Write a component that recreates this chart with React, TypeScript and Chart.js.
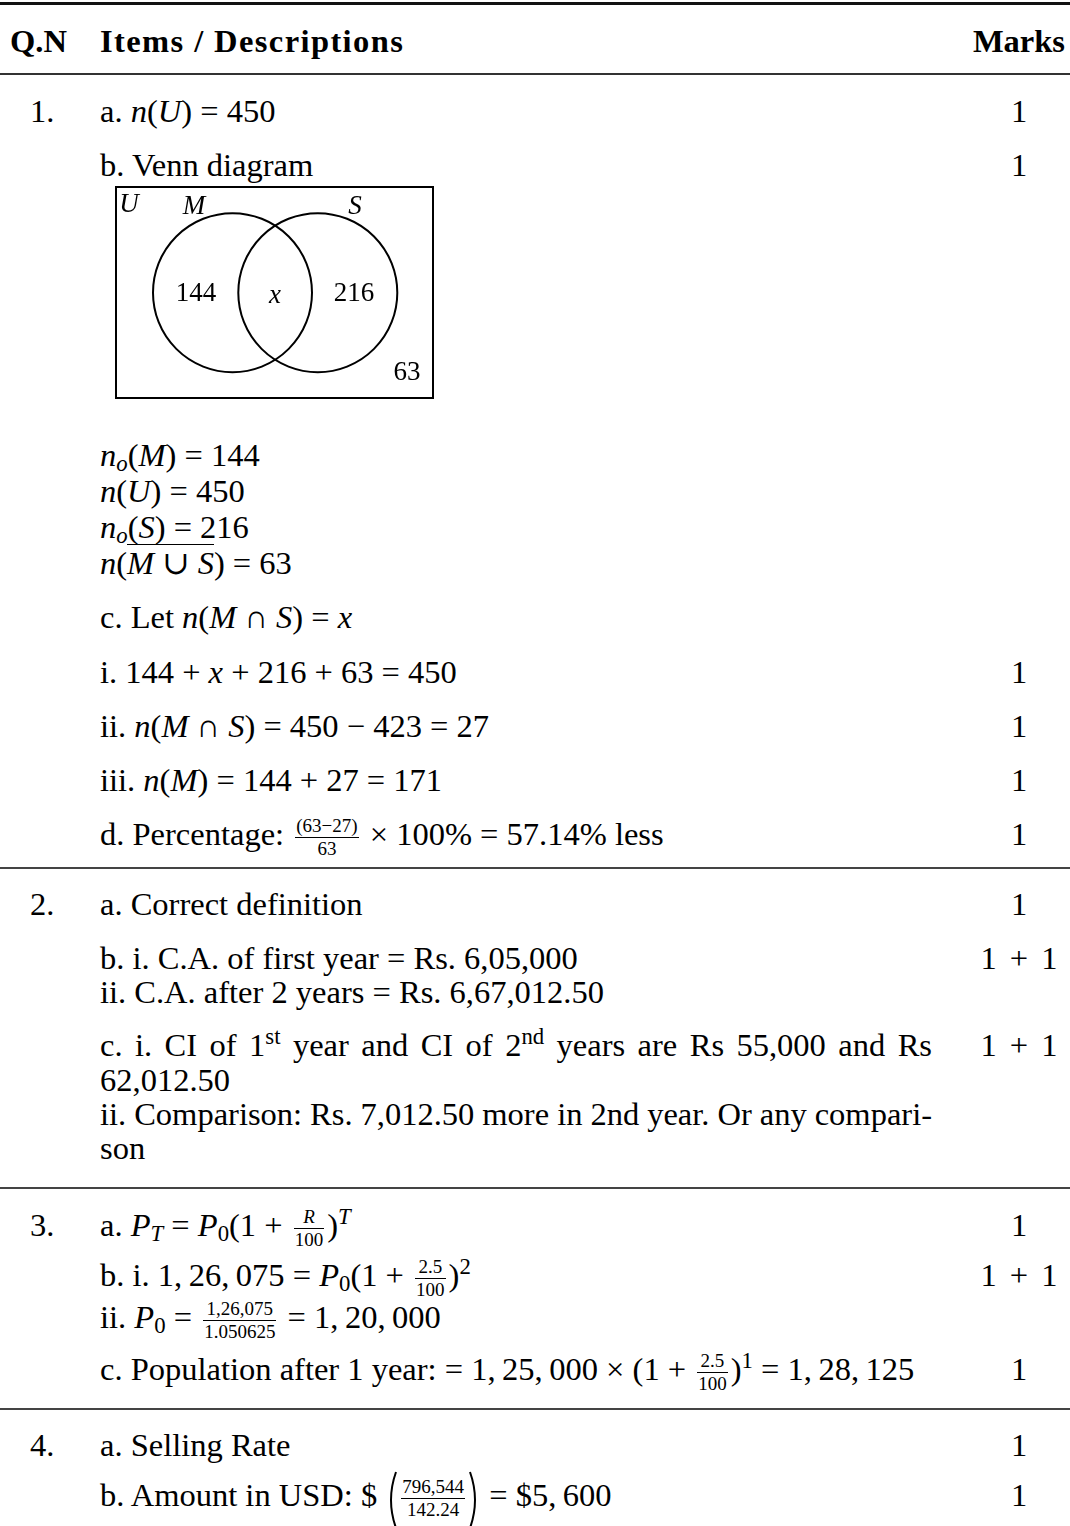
import React, { useEffect, useRef } from "react";
import { Chart, registerables } from "chart.js";

Chart.register(...registerables);

// ---------- data ----------
const setLabels = ["U", "M", "S"]; // universal set, then the two sets
const regionLabels = ["144", "x", "216", "63"]; // M only, M∩S, S only, neither
const questionNumbers = ["1.", "2.", "3.", "4."];
const headerLabels = ["Q.N", "Items / Descriptions", "Marks"];

// ---------- Venn layout (in diagram units, 1 unit ≈ 1 px) ----------
const universeBox = { w: 317, h: 211 };
const circleCenters = [
  { x: 116.5, y: 105.3 },
  { x: 201.8, y: 105.3 },
];
const circleRadius = 79.5;
const setLabelPos = [
  { x: 13, y: 193 },
  { x: 78, y: 191 },
  { x: 239, y: 191 },
];
const regionLabelPos = [
  { x: 80, y: 104 },
  { x: 159, y: 102 },
  { x: 238, y: 104 },
  { x: 291, y: 25 },
];

const FONT = '"Liberation Serif", "DejaVu Serif", serif';
const FS = 32.5;
const TS = "\u2009"; // thin space after digit-group commas in math

const vennPlugin = {
  id: "vennDecor",
  afterDatasetsDraw(chart: any) {
    const { ctx } = chart;
    const xs = chart.scales.x;
    const ys = chart.scales.y;
    ctx.save();
    ctx.strokeStyle = "#000";
    ctx.lineWidth = 2;
    const x0 = xs.getPixelForValue(0);
    const x1 = xs.getPixelForValue(universeBox.w);
    const y0 = ys.getPixelForValue(universeBox.h);
    const y1 = ys.getPixelForValue(0);
    ctx.strokeRect(x0, y0, x1 - x0, y1 - y0);
    ctx.fillStyle = "#000";
    ctx.textAlign = "center";
    ctx.textBaseline = "middle";
    setLabels.forEach((s, i) => {
      ctx.font = `italic 27px ${FONT}`;
      ctx.fillText(s, xs.getPixelForValue(setLabelPos[i].x), ys.getPixelForValue(setLabelPos[i].y));
    });
    regionLabels.forEach((s, i) => {
      const numeric = /^\d+$/.test(s);
      ctx.font = `${numeric ? "" : "italic "}27px ${FONT}`;
      ctx.fillText(s, xs.getPixelForValue(regionLabelPos[i].x), ys.getPixelForValue(regionLabelPos[i].y));
    });
    ctx.restore();
  },
};

function Venn() {
  const ref = useRef<HTMLCanvasElement | null>(null);
  useEffect(() => {
    if (!ref.current) return;
    const chart = new Chart(ref.current, {
      type: "bubble",
      data: {
        datasets: [
          {
            data: circleCenters.map((c) => ({ x: c.x, y: c.y, r: circleRadius })),
            backgroundColor: "rgba(0,0,0,0)",
            borderColor: "#000",
            borderWidth: 2,
            clip: false,
          } as any,
        ],
      },
      options: {
        animation: false,
        responsive: false,
        devicePixelRatio: 1,
        events: [],
        layout: { padding: 0, autoPadding: false },
        plugins: { legend: { display: false }, tooltip: { enabled: false } },
        scales: {
          x: { type: "linear", min: -6, max: universeBox.w + 6, display: false },
          y: { type: "linear", min: -6, max: universeBox.h + 6, display: false },
        },
      } as any,
      plugins: [vennPlugin],
    });
    return () => chart.destroy();
  }, []);
  return (
    <canvas
      ref={ref}
      width={universeBox.w + 12}
      height={universeBox.h + 12}
      style={{ position: "absolute", left: 110, top: 181 }}
    />
  );
}

// ---------- text helpers ----------
const I = ({ children }: any) => <i>{children}</i>;
const Sub = ({ children }: any) => (
  <span style={{ fontSize: "0.7em", verticalAlign: "-5px", lineHeight: 0 }}>{children}</span>
);
const Sup = ({ children }: any) => (
  <span style={{ fontSize: "0.7em", verticalAlign: "12px", lineHeight: 0 }}>{children}</span>
);
const Over = ({ children }: any) => (
  <span style={{ borderTop: "1.3px solid #000" }}>{children}</span>
);
function Frac({ n, d, fs = 19 }: any) {
  return (
    <span
      style={{
        display: "inline-flex",
        flexDirection: "column",
        alignItems: "center",
        verticalAlign: "middle",
        fontSize: fs,
        lineHeight: `${Math.ceil(fs * 1.12)}px`,
        margin: "0 3px",
      }}
    >
      <span style={{ padding: "0 1px" }}>{n}</span>
      <span style={{ alignSelf: "stretch", borderTop: "1.2px solid #000", height: 0 }} />
      <span style={{ padding: "0 1px" }}>{d}</span>
    </span>
  );
}
function Paren({ right = false }: any) {
  return (
    <svg width={13} height={58} style={{ verticalAlign: "-23px" }}>
      <path
        d={right ? "M2 1 Q12 29 2 57" : "M11 1 Q1 29 11 57"}
        stroke="#000"
        strokeWidth={2}
        fill="none"
      />
    </svg>
  );
}

function Line({ y, x = 100, lh = 60, w, align, justify, bold, children, ls, ws }: any) {
  const top = y - (lh / 2 + 0.3375 * FS);
  return (
    <div
      style={{
        position: "absolute",
        left: x,
        top,
        width: w,
        lineHeight: `${lh}px`,
        whiteSpace: "nowrap",
        textAlign: justify ? "justify" : align,
        textAlignLast: justify ? "justify" : undefined,
        fontWeight: bold ? "bold" : undefined,
        letterSpacing: ls,
        wordSpacing: ws,
      }}
    >
      {children}
    </div>
  );
}
const Mark = ({ y, children }: any) => (
  <Line y={y} x={969} w={100} align="center" ws="5px">
    {children}
  </Line>
);
const QN = ({ y, children }: any) => (
  <Line y={y} x={30}>
    {children}
  </Line>
);
const Rule = ({ y, h = 2, c = "#444" }: any) => (
  <div style={{ position: "absolute", left: 0, top: y, width: 1070, height: h, background: c }} />
);

export default function App() {
  return (
    <div
      style={{
        position: "absolute",
        left: 0,
        top: 0,
        width: 1070,
        height: 1526,
        background: "#fff",
        color: "#000",
        fontFamily: FONT,
        fontSize: FS,
        overflow: "hidden",
      }}
    >
      <Rule y={2} h={3} c="#111" />
      <Line y={52} x={10} bold>
        {headerLabels[0]}
      </Line>
      <Line y={52} x={100} bold ls="1.4px">
        {headerLabels[1]}
      </Line>
      <Line y={52} x={965} w={100} align="right" bold>
        {headerLabels[2]}
      </Line>
      <Rule y={73} h={2} c="#333" />

      {/* Question 1 */}
      <QN y={122}>{questionNumbers[0]}</QN>
      <Line y={122}>
        a. <I>n</I>(<I>U</I>) = 450
      </Line>
      <Mark y={122}>1</Mark>
      <Line y={176}>b. Venn diagram</Line>
      <Mark y={176}>1</Mark>
      <Venn />
      <Line y={466}>
        <I>n</I>
        <Sub>
          <I>o</I>
        </Sub>
        (<I>M</I>) = 144
      </Line>
      <Line y={502}>
        <I>n</I>(<I>U</I>) = 450
      </Line>
      <Line y={538}>
        <I>n</I>
        <Sub>
          <I>o</I>
        </Sub>
        (<I>S</I>) = 216
      </Line>
      <Line y={574}>
        <I>n</I>(
        <Over>
          <I>M</I> ∪ <I>S</I>
        </Over>
        ) = 63
      </Line>
      <Line y={628}>
        c. Let <I>n</I>(<I>M</I> ∩ <I>S</I>) = <I>x</I>
      </Line>
      <Line y={683}>
        i. 144 + <I>x</I> + 216 + 63 = 450
      </Line>
      <Mark y={683}>1</Mark>
      <Line y={737}>
        ii. <I>n</I>(<I>M</I> ∩ <I>S</I>) = 450 − 423 = 27
      </Line>
      <Mark y={737}>1</Mark>
      <Line y={791}>
        iii. <I>n</I>(<I>M</I>) = 144 + 27 = 171
      </Line>
      <Mark y={791}>1</Mark>
      <Line y={845}>
        d. Percentage: <Frac n="(63−27)" d="63" /> × 100% = 57.14% less
      </Line>
      <Mark y={845}>1</Mark>
      <Rule y={867} />

      {/* Question 2 */}
      <QN y={915}>{questionNumbers[1]}</QN>
      <Line y={915}>a. Correct definition</Line>
      <Mark y={915}>1</Mark>
      <Line y={969}>b. i. C.A. of first year = Rs. 6,05,000</Line>
      <Mark y={969}>1 + 1</Mark>
      <Line y={1003}>ii. C.A. after 2 years = Rs. 6,67,012.50</Line>
      <Line y={1056} w={832} justify>
        c. i. CI of 1<Sup>st</Sup> year and CI of 2<Sup>nd</Sup> years are Rs 55,000 and Rs
      </Line>
      <Mark y={1056}>1 + 1</Mark>
      <Line y={1091}>62,012.50</Line>
      <Line y={1125} w={832} justify ws="-2px">
        ii. Comparison: Rs. 7,012.50 more in 2nd year. Or any compari-
      </Line>
      <Line y={1159}>son</Line>
      <Rule y={1187} />

      {/* Question 3 */}
      <QN y={1236}>{questionNumbers[2]}</QN>
      <Line y={1236}>
        a. <I>P</I>
        <Sub>
          <I>T</I>
        </Sub>{" "}
        = <I>P</I>
        <Sub>0</Sub>(1 + <Frac n={<I>R</I>} d="100" />)
        <Sup>
          <I>T</I>
        </Sup>
      </Line>
      <Mark y={1236}>1</Mark>
      <Line y={1286}>
        b. i. 1,{TS}26,{TS}075 = <I>P</I>
        <Sub>0</Sub>(1 + <Frac n="2.5" d="100" />)<Sup>2</Sup>
      </Line>
      <Mark y={1286}>1 + 1</Mark>
      <Line y={1328}>
        ii. <I>P</I>
        <Sub>0</Sub> = <Frac n="1,26,075" d="1.050625" /> = 1,{TS}20,{TS}000
      </Line>
      <Line y={1380}>
        c. Population after 1 year: = 1,{TS}25,{TS}000 × (1 + <Frac n="2.5" d="100" />)<Sup>1</Sup> = 1,{TS}28,{TS}125
      </Line>
      <Mark y={1380}>1</Mark>
      <Rule y={1408} />

      {/* Question 4 */}
      <QN y={1456}>{questionNumbers[3]}</QN>
      <Line y={1456}>a. Selling Rate</Line>
      <Mark y={1456}>1</Mark>
      <Line y={1506} lh={70}>
        b. Amount in USD: $ <Paren />
        <Frac n="796,544" d="142.24" />
        <Paren right /> = $5,{TS}600
      </Line>
      <Mark y={1506}>1</Mark>
    </div>
  );
}
